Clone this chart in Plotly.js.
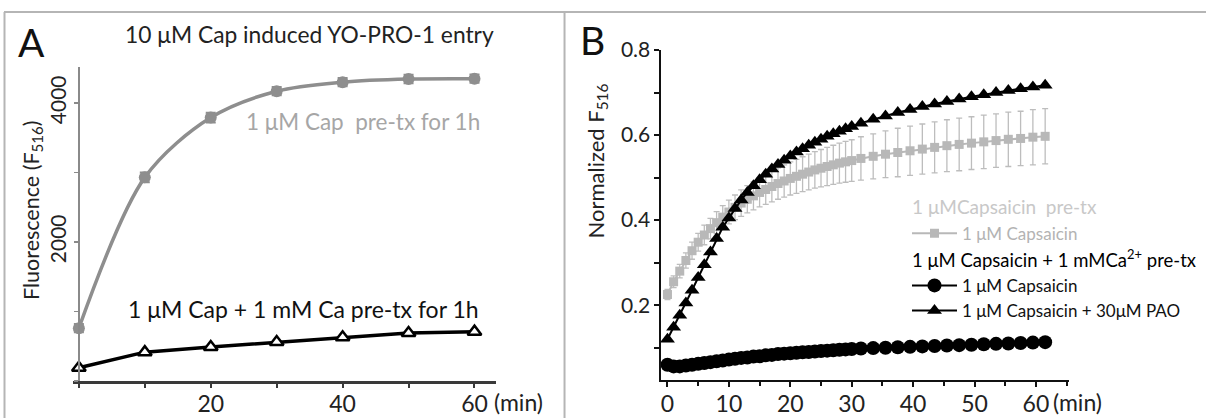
<!DOCTYPE html>
<html>
<head>
<meta charset="utf-8">
<script src="https://cdn.plot.ly/plotly-3.0.1.min.js"></script>
<style>html,body{margin:0;padding:0;background:#fff;}#chart{width:1207px;height:418px;}</style>
</head>
<body>
<div id="chart"></div>
<script>
// ---------- Panel A data ----------
const timeA = [0, 10, 20, 30, 40, 50, 60];
const capPreA = [760, 2930, 3790, 4170, 4300, 4345, 4350];
const capPreErrA = [60, 70, 70, 60, 60, 60, 60];
const capCaPreA = [190, 415, 490, 560, 630, 690, 710];
const tickValsAx = [20, 40, 60];
const tickTextAx = ['20', '40', '60'];
const tickValsAy = [2000, 4000];
const tickTextAy = ['2000', '4000'];

// ---------- Panel B data ----------
const timeB = [0,1,2,3,4,5,6,7,8,9,10,11,12,13,14,15,16,17,18,19,20,21,22,23,24,25,26,27,28,29,30,
  31.5,33.5,35.5,37.5,39.5,41.5,43.5,45.5,47.5,49.5,51.5,53.5,55.5,57.5,59.5,61.5];
const capPreB = [0.225,0.255,0.28,0.305,0.328,0.348,0.365,0.38,0.394,0.407,0.419,0.43,0.44,0.449,0.457,0.465,
  0.472,0.479,0.486,0.492,0.498,0.503,0.508,0.513,0.518,0.522,0.526,0.53,0.534,0.537,0.54,
  0.545,0.55,0.555,0.559,0.563,0.567,0.571,0.575,0.578,0.581,0.584,0.587,0.59,0.592,0.595,0.597];
const capPreErrB = [0.012,0.014,0.016,0.018,0.02,0.021,0.023,0.024,0.026,0.027,0.028,0.029,0.031,0.032,0.033,0.034,
  0.035,0.036,0.037,0.038,0.039,0.04,0.041,0.042,0.043,0.044,0.045,0.046,0.047,0.048,0.049,
  0.051,0.053,0.055,0.057,0.058,0.059,0.06,0.061,0.062,0.062,0.063,0.063,0.064,0.064,0.065,0.065];
const caPreCapB = [0.06,0.056,0.056,0.058,0.06,0.062,0.064,0.066,0.068,0.07,0.072,0.074,0.076,0.077,0.079,0.08,
  0.082,0.083,0.085,0.086,0.087,0.088,0.089,0.09,0.091,0.092,0.093,0.094,0.095,0.096,0.097,
  0.098,0.099,0.1,0.101,0.102,0.103,0.104,0.105,0.106,0.107,0.108,0.109,0.11,0.111,0.112,0.113];
const caPrePaoB = [0.12,0.148,0.176,0.205,0.235,0.265,0.295,0.325,0.357,0.383,0.405,0.427,0.447,0.465,0.481,0.495,
  0.508,0.52,0.531,0.541,0.551,0.56,0.568,0.576,0.583,0.59,0.597,0.603,0.609,0.615,0.62,
  0.628,0.637,0.645,0.653,0.66,0.667,0.673,0.679,0.685,0.69,0.695,0.70,0.705,0.709,0.713,0.717];
const tickValsBy = [0.2, 0.4, 0.6, 0.8];
const tickValsBx = [0, 10, 20, 30, 40, 50, 60];

const FONT = 'Lato, "Open Sans", sans-serif';
const W = 1207, H = 418;
const px = v => v / W, py = v => 1 - v / H;

const traces = [
  {x: timeA, y: capPreA, xaxis: 'x', yaxis: 'y', mode: 'lines+markers', showlegend: false,
   line: {color: '#8e8e8e', width: 3.5, shape: 'spline', smoothing: 0.9},
   marker: {symbol: 'circle', size: 12, color: '#8e8e8e'},
   error_y: {type: 'data', array: capPreErrA, color: '#8e8e8e', thickness: 2, width: 5},
   cliponaxis: false},
  {x: timeA, y: capCaPreA, xaxis: 'x', yaxis: 'y', mode: 'lines+markers', showlegend: false,
   line: {color: '#000', width: 3.5},
   marker: {symbol: 'triangle-up', size: 12, color: '#fff', line: {color: '#000', width: 2.5}},
   cliponaxis: false},
  {x: timeB, y: capPreB, xaxis: 'x2', yaxis: 'y2', mode: 'lines+markers',
   name: '<span style="color:#b3b3b3">1 μM Capsaicin</span>',
   legendgroup: 'g1', legendgrouptitle: {text: '1 μMCapsaicin  pre-tx', font: {color: '#c8c8c8', size: 19, family: FONT}},
   line: {color: '#b8b8b8', width: 2},
   marker: {symbol: 'square', size: 9, color: '#b8b8b8'},
   error_y: {type: 'data', array: capPreErrB, color: '#bdbdbd', thickness: 1.3, width: 3},
   cliponaxis: false},
  {x: timeB, y: caPreCapB, xaxis: 'x2', yaxis: 'y2', mode: 'lines+markers',
   name: '1 μM Capsaicin',
   legendgroup: 'g2', legendgrouptitle: {text: '1 μM Capsaicin + 1 mMCa<sup>2+</sup> pre-tx', font: {color: '#000', size: 18.5, family: FONT}},
   line: {color: '#000', width: 2},
   marker: {symbol: 'circle', size: 14, color: '#000'},
   cliponaxis: false},
  {x: timeB, y: caPrePaoB, xaxis: 'x2', yaxis: 'y2', mode: 'lines+markers',
   name: '1 μM Capsaicin + 30μM PAO',
   legendgroup: 'g2',
   line: {color: '#000', width: 2},
   marker: {symbol: 'triangle-up', size: 13, color: '#000'},
   cliponaxis: false}
];

const axLine = {showline: true, showgrid: false, zeroline: false, ticks: 'outside', fixedrange: true};

const layout = {
  width: W, height: H,
  margin: {l: 0, r: 0, t: 0, b: 0},
  paper_bgcolor: '#fff', plot_bgcolor: 'rgba(0,0,0,0)',
  font: {family: FONT, color: '#222', size: 18},
  showlegend: true,
  legend: {x: px(908), y: py(188), xanchor: 'left', yanchor: 'top', bgcolor: 'rgba(0,0,0,0)',
           font: {size: 17, family: FONT, color: '#111'}, tracegroupgap: 0, traceorder: 'grouped', itemwidth: 45},
  xaxis: Object.assign({}, axLine, {domain: [px(73), px(496)], range: [-0.9, 63.2], anchor: 'y',
    linecolor: '#3a3a3a', linewidth: 2.5, tickcolor: '#3a3a3a', ticklen: 4, tickwidth: 2, ticklabelstandoff: -3,
    tickmode: 'array', tickvals: tickValsAx, ticktext: tickTextAx, tickfont: {size: 23, color: '#222'},
    minor: {dtick: 10, tick0: 0, ticklen: 4, tickwidth: 2, tickcolor: '#3a3a3a', ticks: 'outside'}}),
  yaxis: Object.assign({}, axLine, {domain: [py(381), py(67)], range: [0, 4518], anchor: 'free', position: px(79),
    linecolor: '#8a8a8a', linewidth: 2, tickcolor: '#8a8a8a', ticklen: 4, tickwidth: 1.5,
    tickmode: 'array', tickvals: tickValsAy, ticktext: tickTextAy, tickangle: -90, tickfont: {size: 21, color: '#222'},
    minor: {dtick: 1000, tick0: 0, ticklen: 4, tickwidth: 1.5, tickcolor: '#8a8a8a', ticks: 'outside'}}),
  xaxis2: Object.assign({}, axLine, {domain: [px(662), px(1070)], range: [-0.98, 65.4], anchor: 'y2',
    linecolor: '#111', linewidth: 2, tickcolor: '#111', ticklen: 5, tickwidth: 2, ticklabelstandoff: -3,
    tickmode: 'array', tickvals: tickValsBx, tickfont: {size: 23, color: '#222'},
    minor: {dtick: 5, tick0: 0, ticklen: 4, tickwidth: 2, tickcolor: '#111', ticks: 'outside'}}),
  yaxis2: Object.assign({}, axLine, {domain: [py(380), py(50)], range: [0.024, 0.8], anchor: 'x2',
    linecolor: '#111', linewidth: 2, tickcolor: '#111', ticklen: 5, tickwidth: 2,
    tickmode: 'array', tickvals: tickValsBy, tickformat: '.1f', tickfont: {size: 21, color: '#222'},
    minor: {dtick: 0.1, tick0: 0, ticklen: 5, tickwidth: 2, tickcolor: '#111', ticks: 'outside'}}),
  shapes: [
    {type: 'line', xref: 'paper', yref: 'paper', x0: px(4), x1: 1, y0: py(12), y1: py(12), line: {color: '#b5b5b5', width: 2}},
    {type: 'line', xref: 'paper', yref: 'paper', x0: px(4.5), x1: px(4.5), y0: py(12), y1: 0, line: {color: '#b5b5b5', width: 2}},
    {type: 'line', xref: 'paper', yref: 'paper', x0: px(565), x1: px(565), y0: py(12), y1: 0, line: {color: '#b5b5b5', width: 2}}
  ],
  annotations: [
    {text: 'A', xref: 'paper', yref: 'paper', x: px(32), y: py(42), xanchor: 'center', yanchor: 'middle', showarrow: false, font: {size: 39, color: '#111', family: FONT}},
    {text: 'B', xref: 'paper', yref: 'paper', x: px(593), y: py(40), xanchor: 'center', yanchor: 'middle', showarrow: false, font: {size: 39, color: '#111', family: FONT}},
    {text: '10 μM Cap induced YO-PRO-1 entry', xref: 'paper', yref: 'paper', x: px(123), y: py(34), xanchor: 'left', yanchor: 'middle', showarrow: false, font: {size: 22.8, color: '#222'}},
    {text: '1 μM Cap  pre-tx for 1h', xref: 'paper', yref: 'paper', x: px(244), y: py(121), xanchor: 'left', yanchor: 'middle', showarrow: false, font: {size: 22.5, color: '#a6a6a6'}},
    {text: '1 μM Cap + 1 mM Ca pre-tx for 1h', xref: 'paper', yref: 'paper', x: px(126), y: py(309), xanchor: 'left', yanchor: 'middle', showarrow: false, font: {size: 23, color: '#111'}},
    {text: 'Fluorescence (F<sub>516</sub>)', xref: 'paper', yref: 'paper', x: px(33), y: py(210), xanchor: 'center', yanchor: 'middle', textangle: -90, showarrow: false, font: {size: 21.5, color: '#222'}},
    {text: 'Normalized F<sub>516</sub>', xref: 'paper', yref: 'paper', x: px(597), y: py(161), xanchor: 'center', yanchor: 'middle', textangle: -90, showarrow: false, font: {size: 22, color: '#222'}},
    {text: '(min)', xref: 'paper', yref: 'paper', x: px(492), y: py(402), xanchor: 'left', yanchor: 'middle', showarrow: false, font: {size: 23, color: '#222'}},
    {text: '(min)', xref: 'paper', yref: 'paper', x: px(1052), y: py(402), xanchor: 'left', yanchor: 'middle', showarrow: false, font: {size: 23, color: '#222'}}
  ]
};

Plotly.newPlot('chart', traces, layout, {staticPlot: true, displayModeBar: false});
</script>
</body>
</html>
